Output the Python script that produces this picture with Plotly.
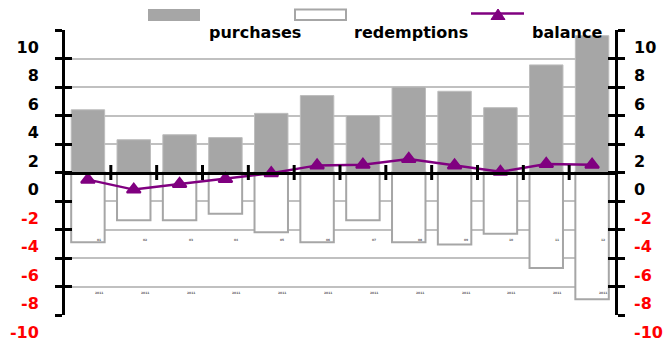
import plotly.graph_objects as go

# Monthly flows (same units on both sides of zero)
months = ["01", "02", "03", "04", "05", "06", "07", "08", "09", "10", "11", "12"]
year_label = "2011"
purchases = [4.4, 2.3, 2.65, 2.45, 4.15, 5.4, 4.0, 6.0, 5.7, 4.55, 7.55, 9.6]
redemptions = [-4.9, -3.35, -3.35, -2.9, -4.2, -4.9, -3.35, -4.9, -5.05, -4.3, -6.7, -8.9]
balance = [-0.5, -1.2, -0.8, -0.45, -0.05, 0.5, 0.55, 0.95, 0.5, 0.05, 0.6, 0.55]

tick_values = list(range(-10, 11, 2))
tick_labels = [
    f'<span style="color:#ff0000">{v}</span>' if v < 0 else str(v) for v in tick_values
]

GREY_BAR = "#a6a6a6"
GRID = "#c0c0c0"
PURPLE = "#800080"
FONT = dict(family="DejaVu Sans", size=16, color="black", weight="bold")

# month slots on a numeric axis; tick marks sit on the boundaries between slots
slots = list(range(len(months)))
boundaries = [i + 0.5 for i in slots[:-1]]
X_RANGE = [-0.5, len(months) - 0.5]
Y_RANGE = [-10, 10]

# plot area in pixels, used to place the hand-drawn legend
PLOT_L, PLOT_W, PLOT_T, PLOT_H = 65, 550, 30, 285
TICK_HALF_PX = 7.5   # category ticks straddle the zero line by this much each side
tick_half_units = TICK_HALF_PX * (Y_RANGE[1] - Y_RANGE[0]) / PLOT_H


def px_x(x):
    return (x - PLOT_L) / PLOT_W


def px_y(y):
    return 1 + (PLOT_T - y) / PLOT_H


fig = go.Figure()

fig.add_trace(go.Bar(
    x=slots, y=purchases, name="purchases", customdata=months,
    marker=dict(color=GREY_BAR, line=dict(color="#bdbdbd", width=1)),
    width=0.73, xaxis="x", yaxis="y",
))
fig.add_trace(go.Bar(
    x=slots, y=redemptions, name="redemptions", customdata=months,
    marker=dict(color="white", line=dict(color=GREY_BAR, width=2)),
    width=0.73, xaxis="x", yaxis="y2",
))
fig.add_trace(go.Scatter(
    x=slots, y=balance, name="balance", mode="lines+markers", customdata=months,
    line=dict(color=PURPLE, width=2.5),
    marker=dict(symbol="triangle-up", size=12, color=PURPLE,
                line=dict(color=PURPLE, width=2)),
    xaxis="x2", yaxis="y3",
))

y_common = dict(range=Y_RANGE, tickmode="array", tickvals=tick_values,
                linecolor="black", linewidth=3, automargin=False,
                tickcolor="black", tickwidth=2.5, ticklen=7, zeroline=False)

x_common = dict(type="linear", range=X_RANGE, anchor="free", position=0.5,
                automargin=False, showgrid=False, zeroline=False,
                showticklabels=False, ticks="")

fig.update_layout(
    width=667, height=344,
    margin=dict(l=PLOT_L, r=667 - PLOT_L - PLOT_W, t=PLOT_T, b=344 - PLOT_T - PLOT_H),
    paper_bgcolor="white", plot_bgcolor="white",
    showlegend=False,
    barmode="overlay",
    font=FONT,
    # zero line
    xaxis=dict(**x_common, showline=True, linecolor="black", linewidth=3),
    xaxis2=dict(**x_common, overlaying="x", showline=False),
    # left labels + outside ticks mirrored to the right edge
    yaxis=dict(**y_common, side="left", ticks="outside", ticktext=tick_labels,
               showline=True, mirror="allticks",
               showgrid=True, gridcolor=GRID, gridwidth=2,
               ticklabelshift=17, ticklabelstandoff=13, tickfont=FONT),
    # inside ticks on both edges
    yaxis2=dict(**y_common, overlaying="y", side="left", ticks="inside",
                showline=True, mirror="allticks",
                showticklabels=False, showgrid=False),
    # labels on the right edge
    yaxis3=dict(**y_common, overlaying="y", side="right", ticks="",
                showline=False, ticktext=tick_labels, showgrid=False,
                ticklabelshift=17, ticklabelstandoff=18, tickfont=FONT),
)

# Category boundary ticks crossing the zero line
for b in boundaries:
    fig.add_shape(type="line", xref="x", yref="y", layer="above",
                  x0=b, x1=b, y0=-tick_half_units, y1=tick_half_units,
                  line=dict(color="black", width=3))

# Tiny category labels under the bars
for s, m in zip(slots, months):
    fig.add_annotation(x=s, y=-4.75, xref="x", yref="y", text=m, showarrow=False,
                       xshift=11, font=dict(family="DejaVu Sans", size=3, color="#666"))
    fig.add_annotation(x=s, y=-8.45, xref="x", yref="y", text=year_label, showarrow=False,
                       xshift=11, font=dict(family="DejaVu Sans", size=3, color="#666"))

# Legend: swatches on the top row, names one row lower
fig.add_shape(type="rect", xref="paper", yref="paper",
              x0=px_x(148), x1=px_x(200), y0=px_y(21), y1=px_y(9),
              fillcolor=GREY_BAR, line=dict(width=0))
fig.add_shape(type="rect", xref="paper", yref="paper",
              x0=px_x(295), x1=px_x(346), y0=px_y(20), y1=px_y(9.5),
              fillcolor="white", line=dict(color=GREY_BAR, width=2))
fig.add_shape(type="line", xref="paper", yref="paper",
              x0=px_x(471), x1=px_x(524), y0=px_y(13.5), y1=px_y(13.5),
              line=dict(color=PURPLE, width=2.5))
tx = 498
fig.add_shape(type="path", xref="paper", yref="paper",
              path=(f"M {px_x(tx - 7)},{px_y(19.5)} L {px_x(tx + 7)},{px_y(19.5)} "
                    f"L {px_x(tx)},{px_y(9)} Z"),
              fillcolor=PURPLE, line=dict(color=PURPLE, width=1))

for name, left in [("purchases", 207), ("redemptions", 352), ("balance", 530)]:
    fig.add_annotation(x=px_x(left), y=px_y(32), xref="paper", yref="paper",
                       text=name, showarrow=False, xanchor="left", yanchor="middle",
                       font=FONT)

fig.write_html("out.html")
